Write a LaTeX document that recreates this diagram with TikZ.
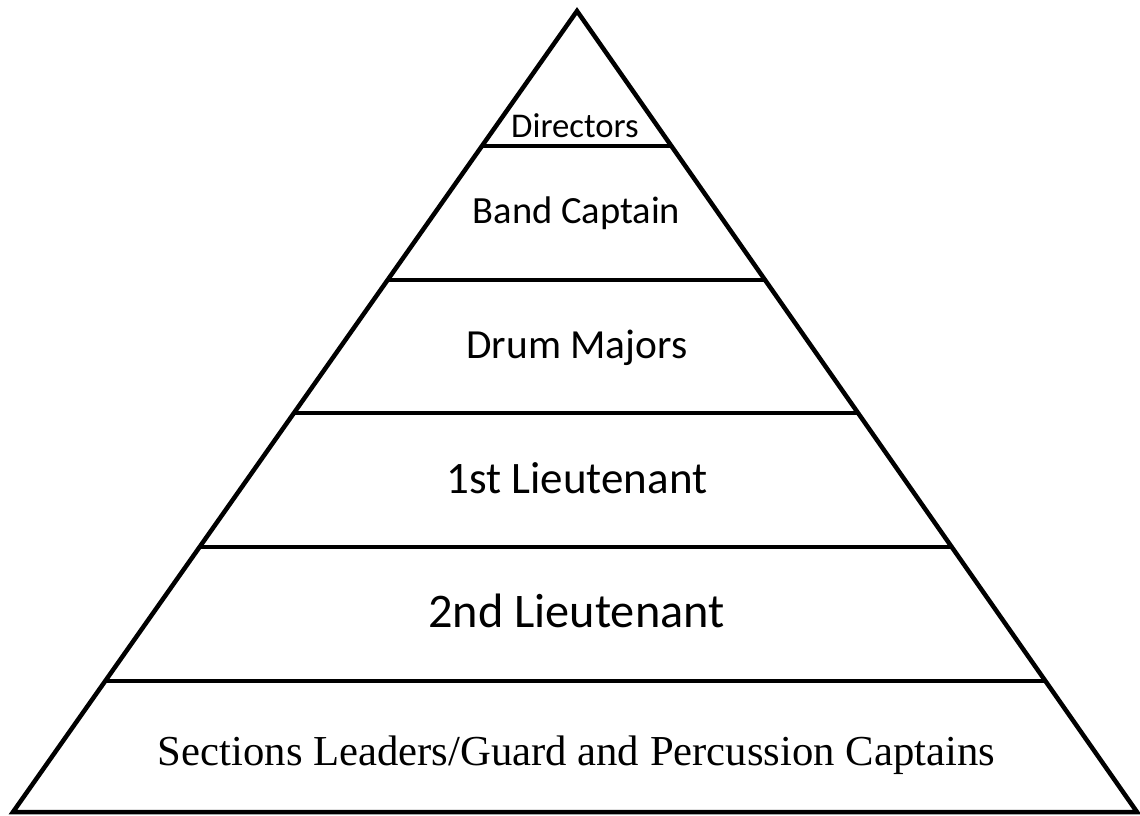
\documentclass[tikz,border=0pt]{standalone}
\usepackage{fontspec}
\usetikzlibrary{calc}
\setmainfont{Liberation Serif}
\newfontfamily\labelfont{Carlito}
\tikzset{
  edge/.style={line width=4.5pt, black},
  lvl/.style={inner sep=0pt, anchor=base}
}
\begin{document}
\begin{tikzpicture}[x=1pt,y=-1pt]
\useasboundingbox (0,0) rectangle (1140,815);
\coordinate (A) at (577,11);
\coordinate (L) at (13,812);
\coordinate (R) at (1137,812);
\draw[edge, line join=miter] (L) -- (A) -- (R) -- cycle;
% level lines
\foreach \y/\n in {146/1,280/2,413/3,547/4,681/5}{
  \coordinate (l\n) at ($(A)!{(\y-11)/801}!(L)$);
  \coordinate (r\n) at ($(A)!{(\y-11)/801}!(R)$);
  \draw[edge] (l\n) -- (r\n);
}
\node[lvl, font=\labelfont\fontsize{34.7}{38}\selectfont] (dir) at (575,137) {Directors};
\node[lvl, font=\labelfont\fontsize{38.5}{42}\selectfont] (band) at (576.5,223) {Band Captain};
\node[lvl, font=\labelfont\fontsize{41.4}{46}\selectfont] (drum) at (577,358) {Drum Majors};
\node[lvl, font=\labelfont\fontsize{45}{50}\selectfont] (first) at (577,493) {1st Lieutenant};
\node[lvl, font=\labelfont\fontsize{48.3}{54}\selectfont] (second) at (576.5,627) {2nd Lieutenant};
\node[lvl, font=\fontsize{42.7}{48}\selectfont] (sect) at (576.5,765) {Sections Leaders/Guard and Percussion Captains};
\end{tikzpicture}
\end{document}
